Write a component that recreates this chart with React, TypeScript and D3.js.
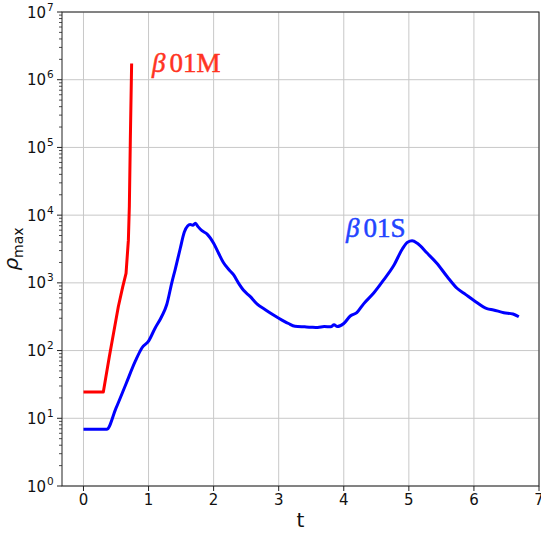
import React from "react";
import * as d3 from "d3";

// Time axis (t) and peak density for the two runs
const tM = [0, 0.305, 0.397, 0.536, 0.603, 0.654, 0.69, 0.705, 0.72, 0.74];
const rhoM = [24.5, 24.5, 81, 447, 871, 1380, 4270, 13500, 129000, 1740000];

const tS = [
  0, 0.357, 0.5, 0.65, 0.8, 0.9, 1.0, 1.1, 1.2, 1.28, 1.357, 1.41, 1.485, 1.55, 1.6, 1.64,
  1.68, 1.72, 1.76, 1.82, 1.9, 2.0, 2.08, 2.15, 2.23, 2.305, 2.38, 2.46, 2.56, 2.665, 2.8,
  2.92, 3.05, 3.15, 3.25, 3.4, 3.5, 3.6, 3.7, 3.8, 3.85, 3.9, 4.0, 4.1, 4.2, 4.305, 4.46,
  4.61, 4.77, 4.9, 4.98, 5.05, 5.13, 5.28, 5.43, 5.59, 5.74, 5.87, 6.0, 6.2, 6.3, 6.46,
  6.6, 6.69,
];
const rhoS = [
  6.87, 6.87, 14.1, 31.6, 70.8, 110, 138, 214, 316, 479, 1000, 1585, 3162, 5623, 6918, 7244,
  7079, 7586, 6761, 5888, 5248, 3846, 2692, 1995, 1585, 1318, 1000, 776, 631, 490, 398,
  335, 282, 251, 229, 224, 221, 219, 226, 224, 240, 226, 251, 324, 363, 490, 708,
  1096, 1820, 3162, 3981, 4169, 3846, 2754, 1950, 1230, 832, 676, 550, 417, 398, 363,
  347, 316,
];

const xTicks = [0, 1, 2, 3, 4, 5, 6, 7];
const yExponents = [0, 1, 2, 3, 4, 5, 6, 7];

const W = 541;
const H = 534;
const left = 62;
const right = 539;
const top = 12;
const bottom = 486;

export default function App() {
  const x = d3.scaleLinear().domain([-0.33, 7.0]).range([left, right]);
  const y = d3.scaleLog().domain([1, 1e7]).range([bottom, top]);

  const lineM = d3
    .line<[number, number]>()
    .x((d) => x(d[0]))
    .y((d) => y(d[1]));

  const lineS = d3
    .line<[number, number]>()
    .x((d) => x(d[0]))
    .y((d) => y(d[1]))
    .curve(d3.curveMonotoneX);

  const ptsM: [number, number][] = tM.map((t, i) => [t, rhoM[i]]);
  const ptsS: [number, number][] = tS.map((t, i) => [t, rhoS[i]]);

  const minor: number[] = [];
  for (let e = 0; e < 7; e++) {
    for (let k = 2; k <= 9; k++) minor.push(k * Math.pow(10, e));
  }

  const sans = "DejaVu Sans, sans-serif";
  const serif = "Liberation Serif, Times New Roman, serif";

  return (
    <svg
      width={W}
      height={H}
      style={{ position: "absolute", left: 0, top: 0, background: "#fff" }}
    >
      <rect x={0} y={0} width={W} height={H} fill="#fff" />
      <defs>
        <clipPath id="plot">
          <rect x={left} y={top} width={right - left} height={bottom - top} />
        </clipPath>
      </defs>

      {/* grid */}
      <g stroke="#c8c8c8" strokeWidth={1}>
        {xTicks.map((t) => (
          <line key={"gx" + t} x1={x(t)} x2={x(t)} y1={top} y2={bottom} />
        ))}
        {yExponents.map((e) => (
          <line key={"gy" + e} x1={left} x2={right} y1={y(Math.pow(10, e))} y2={y(Math.pow(10, e))} />
        ))}
      </g>

      {/* series */}
      <g clipPath="url(#plot)" fill="none" strokeWidth={3} strokeLinejoin="round" strokeLinecap="butt">
        <path d={lineM(ptsM) ?? ""} stroke="#ff0000" />
        <path d={lineS(ptsS) ?? ""} stroke="#0000ff" />
      </g>

      {/* frame */}
      <rect x={left} y={top} width={right - left} height={bottom - top} fill="none" stroke="#222" strokeWidth={1} />

      {/* x ticks */}
      <g>
        {xTicks.map((t) => (
          <g key={"xt" + t}>
            <line x1={x(t)} x2={x(t)} y1={bottom} y2={bottom + 5} stroke="#222" />
            <text x={x(t)} y={505} textAnchor="middle" fontFamily={sans} fontSize={15} fill="#111">
              {t}
            </text>
          </g>
        ))}
      </g>

      {/* y ticks */}
      <g>
        {minor.map((v, i) => (
          <line key={"ym" + i} x1={left - 3} x2={left} y1={y(v)} y2={y(v)} stroke="#222" strokeWidth={0.8} />
        ))}
        {yExponents.map((e) => {
          const yy = y(Math.pow(10, e));
          return (
            <g key={"yt" + e}>
              <line x1={left - 5} x2={left} y1={yy} y2={yy} stroke="#222" />
              <text x={46} y={yy + 5.5} textAnchor="end" fontFamily={sans} fontSize={15} fill="#111">
                10
              </text>
              <text x={47} y={yy - 1.5} textAnchor="start" fontFamily={sans} fontSize={10.5} fill="#111">
                {e}
              </text>
            </g>
          );
        })}
      </g>

      {/* axis labels */}
      <text x={(left + right) / 2} y={527} textAnchor="middle" fontFamily={sans} fontSize={20} fill="#111">
        t
      </text>
      <text
        transform={`translate(18,${(top + bottom) / 2}) rotate(-90)`}
        textAnchor="middle"
        fontFamily={sans}
        fontSize={20}
        fill="#111"
      >
        <tspan fontStyle="italic">ρ</tspan>
        <tspan fontSize={14} dy={5}>max</tspan>
      </text>

      {/* run labels */}
      <text x={152} y={72} fontFamily={serif} fontSize={27} fill="#ff3322" stroke="#ff3322" strokeWidth={0.5}>
        <tspan fontStyle="italic">β</tspan>
        <tspan dx={4}>01M</tspan>
      </text>
      <text x={346} y={237} fontFamily={serif} fontSize={27} fill="#2244ff" stroke="#2244ff" strokeWidth={0.5}>
        <tspan fontStyle="italic">β</tspan>
        <tspan dx={4}>01S</tspan>
      </text>
    </svg>
  );
}
